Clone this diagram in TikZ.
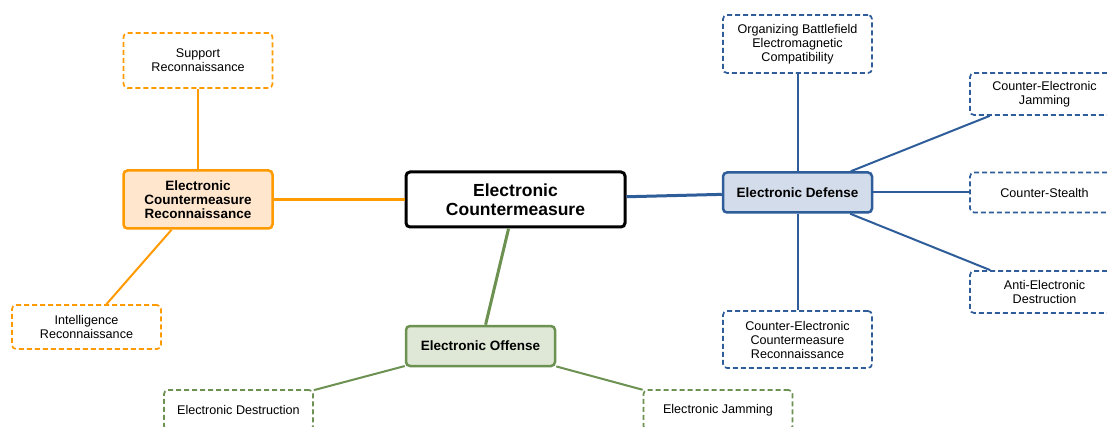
\documentclass[tikz,border=0pt]{standalone}
\usepackage{fontspec}
\setmainfont{Liberation Sans}
\definecolor{orng}{HTML}{FF9A00}
\definecolor{orngfill}{HTML}{FFE6CC}
\definecolor{grn}{HTML}{6C9150}
\definecolor{grnfill}{HTML}{DFE8D6}
\definecolor{blu}{HTML}{2E5D9A}
\definecolor{blufill}{HTML}{D2DCEA}
\tikzset{
  base/.style={rectangle, rounded corners=4pt, inner sep=0pt, align=center, minimum width=149pt},
  rootbox/.style={base, draw=black, line width=3pt, fill=white, minimum width=219pt, minimum height=55pt,
     font=\fontsize{17.5}{18.5}\selectfont\bfseries},
  mainbox/.style={base, line width=2.5pt, font=\fontsize{13.5}{14}\selectfont\bfseries},
  subbox/.style={base, line width=1.7pt, fill=white, dash pattern=on 5pt off 3pt,
     font=\fontsize{12.6}{14}\selectfont},
  obox/.style={subbox, draw=orng},
  gbox/.style={subbox, draw=grn},
  bbox/.style={subbox, draw=blu},
  mainline/.style={line width=3pt},
  subline/.style={line width=2pt},
}
\begin{document}
\begin{tikzpicture}[x=1pt,y=-1pt]
\useasboundingbox (0,0) rectangle (1107,427);
\fill[white] (0,0) rectangle (1107,427);
\clip (0,0) rectangle (1107,427);
% root
\node[rootbox] (root) at (515.5,199.5) {Electronic\\Countermeasure};
% main topics
\node[mainbox, draw=orng, fill=orngfill, minimum height=58pt] (ecr) at (198,199.5) {Electronic\\Countermeasure\\Reconnaissance};
\node[mainbox, draw=grn, fill=grnfill, minimum height=40pt] (off) at (480.5,346) {Electronic Offense};
\node[mainbox, draw=blu, fill=blufill, minimum height=40pt] (def) at (797.5,192.5) {Electronic Defense};
% orange subtopics
\node[obox, minimum height=55pt] (sup) at (198,60.5) {Support\\Reconnaissance};
\node[obox, minimum height=44pt] (intel) at (86.5,327) {Intelligence\\Reconnaissance};
% green subtopics
\node[gbox, minimum height=40pt] (dest) at (238.5,410) {Electronic Destruction};
\node[gbox, minimum height=40pt] (jam) at (718,410) {Electronic Jamming};
% blue subtopics
\node[bbox, minimum height=58pt] (org) at (797.5,44) {Organizing Battlefield\\Electromagnetic\\Compatibility};
\node[bbox, minimum height=42pt] (cej) at (1044.5,94) {Counter-Electronic\\Jamming};
\node[bbox, minimum height=40pt] (cs) at (1044.5,192.5) {Counter-Stealth};
\node[bbox, minimum height=42pt] (aed) at (1044.5,292) {Anti-Electronic\\Destruction};
\node[bbox, minimum height=57pt] (cecr) at (797.5,339.5) {Counter-Electronic\\Countermeasure\\Reconnaissance};
% connectors
\draw[mainline, orng] (root) -- (ecr);
\draw[mainline, grn] (root) -- (off);
\draw[mainline, blu] (root) -- (def);
\draw[subline, orng] (ecr) -- (sup);
\draw[subline, orng] (ecr) -- (intel);
\draw[subline, grn] (off) -- (dest);
\draw[subline, grn] (off) -- (jam);
\draw[subline, blu] (def) -- (org);
\draw[subline, blu] (def) -- (cej);
\draw[subline, blu] (def) -- (cs);
\draw[subline, blu] (def) -- (aed);
\draw[subline, blu] (def) -- (cecr);
\end{tikzpicture}
\end{document}
